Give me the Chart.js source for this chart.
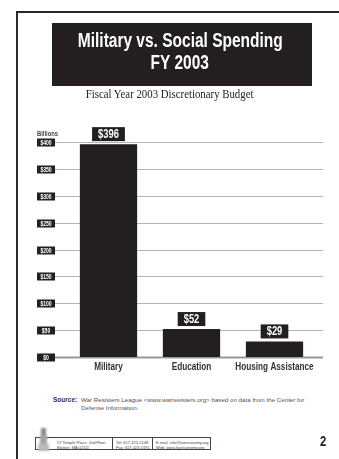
<!DOCTYPE html>
<html>
<head>
<meta charset="utf-8">
<script src="https://cdn.jsdelivr.net/npm/chart.js@4.4.1/dist/chart.umd.min.js"></script>
<style>
  html, body { margin: 0; padding: 0; background: #fff; }
  body { width: 339px; height: 459px; position: relative; overflow: hidden; font-family: 'Liberation Sans', Arial, sans-serif; }
  .frame-top { position: absolute; left: 16px; top: 11px; width: 323px; height: 2px; background: #2a2a2a; }
  .frame-left { position: absolute; left: 16px; top: 11px; width: 2px; height: 448px; background: #2a2a2a; }
  .title {
    position: absolute; left: 52px; top: 23px; width: 260px; height: 63px; box-sizing: border-box;
    padding-top: 6px; background: #231f20; color: #fff; text-align: center;
    font: bold 20px/22px 'Liberation Sans', Arial, sans-serif;
  }
  .title span { display: block; white-space: nowrap; transform: scaleX(0.775); transform-origin: 128px 0; margin-left: -3px; }
  .subtitle {
    position: absolute; left: 0; top: 86px; width: 339px; text-align: center;
    font: 13.5px/16px 'Liberation Serif', serif; color: #222;
    transform: scaleX(0.8); transform-origin: 170px 0;
  }
  #chart { position: absolute; left: 0; top: 120px; }
  .source { position: absolute; left: 53px; top: 396px; font-size: 6.2px; line-height: 8px; color: #555; }
  .source b { position: absolute; left: 0; top: 0; color: #333; font-size: 6.5px; }
  .source span { position: absolute; left: 28px; top: 0; width: 240px; }
  .footer {
    position: absolute; left: 35px; top: 437px; width: 176px; height: 13px; box-sizing: border-box;
    border: 1px solid #444; display: flex; font-size: 4px; line-height: 5px; color: #444;
  }
  .footer div { padding: 1.5px 0 0 3px; box-sizing: border-box; }
  .footer .c1 { width: 77px; padding-left: 21px; border-right: 1px solid #444; }
  .footer .c2 { width: 40px; border-right: 1px solid #444; }
  .footer .c3 { flex: 1; }
  .logo { position: absolute; left: 38px; top: 428px; width: 11px; height: 23px; filter: blur(0.8px); }
  .logo i { position: absolute; background: #9a9a9a; }
  .page-no {
    position: absolute; left: 320px; top: 433px; color: #222;
    font: bold 14px 'Liberation Sans', Arial, sans-serif; transform: scaleX(0.8); transform-origin: 0 0;
  }
</style>
</head>
<body>
<div class="frame-top"></div>
<div class="frame-left"></div>
<div class="title"><span>Military vs. Social Spending</span><span>FY 2003</span></div>
<div class="subtitle">Fiscal Year 2003 Discretionary Budget</div>
<canvas id="chart" width="339" height="260"></canvas>
<div class="source"><b>Source:</b><span>War Resisters League &lt;www.warresisters.org&gt; based on data from the Center for Defense Information.</span></div>
<div class="footer">
  <div class="c1">57 Temple Place, 2nd Floor<br>Boston, MA 02111</div>
  <div class="c2">Tel: 617-423-2148<br>Fax: 617-423-0191</div>
  <div class="c3">E-mail: info@faireconomy.org<br>Web: www.faireconomy.org</div>
</div>
<div class="logo">
  <i style="left:3px;top:0;width:5px;height:7px;background:#888"></i>
  <i style="left:2px;top:7px;width:7px;height:9px;background:#a5a5a5"></i>
  <i style="left:0;top:16px;width:11px;height:7px;background:#bbb"></i>
</div>
<div class="page-no">2</div>

<script>
const categories = ['Military', 'Education', 'Housing Assistance'];
const spending = [396, 52, 29];
const valueLabels = ['$396', '$52', '$29'];
const yTicks = [0, 50, 100, 150, 200, 250, 300, 350, 400];
const yTickLabels = ['$0', '$50', '$100', '$150', '$200', '$250', '$300', '$350', '$400'];

const INK = '#231f20';
const SANS = "'Liberation Sans', Arial, sans-serif";
const NARROW = 0.78; // horizontal squeeze for the condensed look

// text squeezed horizontally around its anchor point
function narrowText(ctx, text, x, y, sx) {
  ctx.save();
  ctx.translate(x, y);
  ctx.scale(sx, 1);
  ctx.fillText(text, 0, 0);
  ctx.restore();
}

// gridlines run a bit past the plot on both sides, labels sit in black tabs
const budgetAxis = {
  id: 'budgetAxis',
  beforeDatasetsDraw(chart) {
    const { ctx } = chart;
    const y = chart.scales.y;
    ctx.save();
    yTicks.forEach((v, i) => {
      const py = Math.round(y.getPixelForValue(v)) + 0.5;
      ctx.strokeStyle = v === 0 ? '#9a9a9a' : '#b4b4b4';
      ctx.lineWidth = v === 0 ? 2 : 1;
      ctx.beginPath();
      ctx.moveTo(55, py);
      ctx.lineTo(323, py);
      ctx.stroke();

      ctx.fillStyle = INK;
      ctx.fillRect(37, py - 4, 18, 8);
      ctx.fillStyle = '#fff';
      ctx.font = 'bold 7px ' + SANS;
      ctx.textAlign = 'center';
      ctx.textBaseline = 'middle';
      narrowText(ctx, yTickLabels[i], 46, py + 0.5, 0.72);
    });
    ctx.fillStyle = '#444';
    ctx.font = 'bold 7.5px ' + SANS;
    ctx.textAlign = 'left';
    ctx.textBaseline = 'middle';
    narrowText(ctx, 'Billions', 37, 13.5, NARROW);
    ctx.restore();
  },
  afterDatasetsDraw(chart) {
    const { ctx } = chart;
    const meta = chart.getDatasetMeta(0);
    const x = chart.scales.x;
    ctx.save();
    ctx.textAlign = 'center';
    ctx.textBaseline = 'middle';
    meta.data.forEach((bar, i) => {
      ctx.font = 'bold 12px ' + SANS;
      const w = ctx.measureText(valueLabels[i]).width * NARROW + 12;
      const top = bar.y - 3 - 14;
      ctx.fillStyle = INK;
      ctx.fillRect(bar.x - w / 2, top, w, 14);
      ctx.fillStyle = '#fff';
      narrowText(ctx, valueLabels[i], bar.x, top + 7.5, NARROW);
    });
    // category names under the baseline
    ctx.fillStyle = '#333';
    ctx.font = 'bold 10.5px ' + SANS;
    categories.forEach((c, i) => {
      narrowText(ctx, c, x.getPixelForValue(i), chart.chartArea.bottom + 10, NARROW);
    });
    ctx.restore();
  },
};

new Chart(document.getElementById('chart'), {
  type: 'bar',
  data: {
    labels: categories,
    datasets: [{
      data: spending,
      backgroundColor: INK,
      categoryPercentage: 1,
      barPercentage: 0.69,
    }],
  },
  options: {
    responsive: false,
    animation: false,
    layout: { padding: { left: 67, right: 23, top: 22, bottom: 3 } },
    plugins: { legend: { display: false }, tooltip: { enabled: false } },
    scales: {
      x: {
        grid: { display: false, drawTicks: false },
        border: { display: false },
        ticks: { display: false },
        afterFit: (s) => { s.height = 20; },
      },
      y: {
        min: 0,
        max: 400,
        ticks: { display: false, stepSize: 50 },
        grid: { display: false },
        border: { display: false },
        afterFit: (s) => { s.width = 0; },
      },
    },
  },
  plugins: [budgetAxis],
});
</script>
</body>
</html>
